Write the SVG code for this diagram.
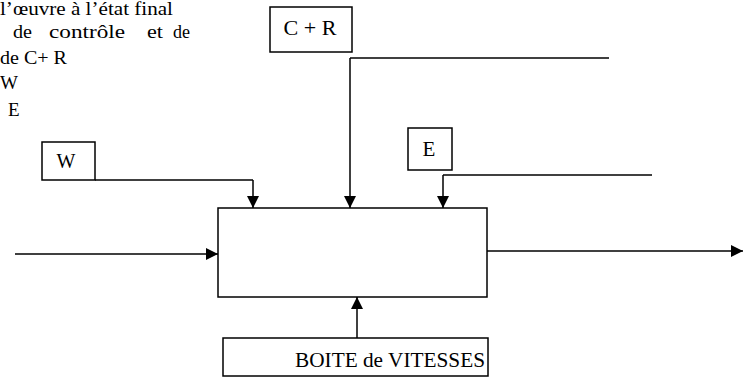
<svg xmlns="http://www.w3.org/2000/svg" width="744" height="378" viewBox="0 0 744 378">
<defs>
<marker id="ah" viewBox="0 0 12 12" refX="12" refY="6" markerWidth="12" markerHeight="12" markerUnits="userSpaceOnUse" orient="auto">
<path d="M0,0 L12,6 L0,12 Z" fill="#000"/>
</marker>
<style>
.t{font-family:"Liberation Serif","Times New Roman",serif;fill:#000}
.b{fill:#fff;stroke:#000;stroke-width:1.5}
.c{fill:none;stroke:#000;stroke-width:1.5}
.a{marker-end:url(#ah)}
</style>
</defs>
<rect width="744" height="378" fill="#fff"/>
<g id="notes">
<text class="t" x="0" y="15" font-size="18" textLength="173" lengthAdjust="spacingAndGlyphs">l’œuvre à l’état final</text>
<text class="t" y="38" font-size="19"><tspan x="13" textLength="19" lengthAdjust="spacingAndGlyphs">de</tspan><tspan x="49" textLength="76" lengthAdjust="spacingAndGlyphs">contrôle</tspan><tspan x="147" textLength="16" lengthAdjust="spacingAndGlyphs">et</tspan><tspan x="173" textLength="17" lengthAdjust="spacingAndGlyphs">de</tspan></text>
<text class="t" x="0" y="64" font-size="19" textLength="67" lengthAdjust="spacingAndGlyphs">de C+ R</text>
<text class="t" x="0" y="89" font-size="19">W</text>
<text class="t" x="8" y="116" font-size="19">E</text>
</g>
<g id="box-W">
<rect class="b" x="42" y="142" width="53" height="38"/>
<text class="t" x="66" y="168" font-size="20" text-anchor="middle">W</text>
</g>
<g id="box-CR">
<rect class="b" x="270" y="7" width="82" height="45"/>
<text class="t" x="310" y="35" font-size="20" text-anchor="middle" textLength="53" lengthAdjust="spacingAndGlyphs">C + R</text>
</g>
<g id="box-E">
<rect class="b" x="408" y="128" width="44" height="42"/>
<text class="t" x="429" y="156" font-size="21" text-anchor="middle">E</text>
</g>
<g id="box-main">
<rect class="b" x="218" y="208" width="269" height="89"/>
</g>
<g id="box-boite">
<rect class="b" x="223" y="338" width="265" height="38"/>
<text class="t" x="295" y="367" font-size="21" textLength="190" lengthAdjust="spacingAndGlyphs">BOITE de VITESSES</text>
</g>
<g id="connectors">
<path class="c" d="M95,180 H253"/>
<path class="c a" d="M253,180 V208"/>
<path class="c" d="M350,58 H609"/>
<path class="c a" d="M350,58 V208"/>
<path class="c" d="M443,175 H652"/>
<path class="c a" d="M443,175 V208"/>
<path class="c a" d="M15,254 H218"/>
<path class="c a" d="M487,251 H743"/>
<path class="c a" d="M357,338 V297"/>
</g>
</svg>
